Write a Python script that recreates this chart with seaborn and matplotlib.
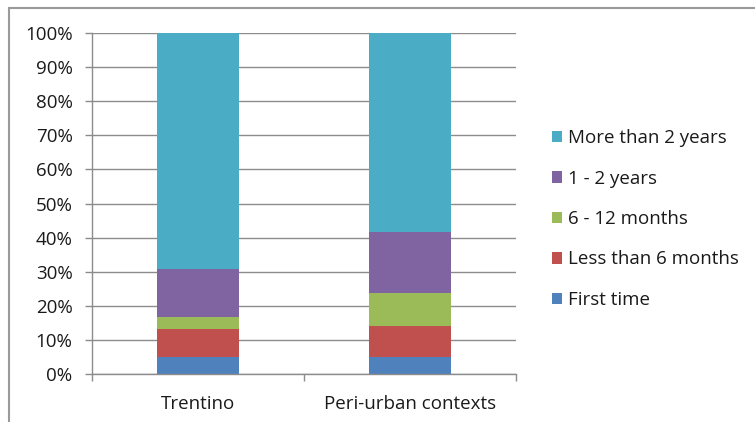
import matplotlib
matplotlib.use("Agg")
import matplotlib.pyplot as plt
import seaborn as sns
import numpy as np
import pandas as pd
from matplotlib.patches import Rectangle, Patch
from matplotlib.ticker import PercentFormatter

categories = ["Trentino", "Peri-urban contexts"]
series_names = ["First time", "Less than 6 months", "6 - 12 months", "1 - 2 years", "More than 2 years"]
first_time = [5.0, 5.0]
less_6_months = [8.2, 9.2]
months_6_12 = [3.6, 9.5]
years_1_2 = [14.0, 17.9]
more_2_years = [69.2, 58.4]
colors = ["#4F81BD", "#C0504D", "#9BBB59", "#8064A2", "#4BACC6"]
yticks = [0, 10, 20, 30, 40, 50, 60, 70, 80, 90, 100]

sns.set_theme(style="white")
plt.rcParams["font.family"] = ["Open Sans", "DejaVu Sans"]

fig = plt.figure(figsize=(7.55, 4.22), dpi=100)
ax = fig.add_axes([92 / 755, 48 / 422, (516 - 92) / 755, (374 - 33) / 422])

values = [first_time, less_6_months, months_6_12, years_1_2, more_2_years]
cum = np.cumsum(np.array(values), axis=0)
df = pd.DataFrame({"cat": categories})
# draw cumulative totals from top layer down so each layer overlays the previous
for i in range(len(series_names) - 1, -1, -1):
    df["v"] = cum[i]
    sns.barplot(data=df, x="cat", y="v", color=colors[i], width=0.39,
                saturation=1, ax=ax, linewidth=0, order=categories)

ax.set_xlim(-0.5, 1.5)
ax.set_ylim(0, 100)
ax.set_yticks(yticks)
ax.yaxis.set_major_formatter(PercentFormatter(decimals=0))
ax.yaxis.grid(True, color="#8C8C8C", linewidth=1)
ax.set_axisbelow(True)
ax.set_xlabel("")
ax.set_ylabel("")

fs = 13.5
# category labels as minor ticks, boundaries as major ticks
ax.set_xticks([-0.5, 0.5, 1.5])
ax.set_xticklabels(["", "", ""])
ax.set_xticks([0, 1], minor=True)
ax.set_xticklabels(categories, minor=True)
ax.tick_params(axis="x", which="major", direction="out", length=5, width=1,
               color="#8C8C8C", bottom=True)
ax.tick_params(axis="x", which="minor", length=0, pad=15, labelsize=fs,
               labelcolor="#1a1a1a")
ax.tick_params(axis="y", direction="out", length=5, width=1, color="#8C8C8C",
               left=True, pad=9, labelsize=fs, labelcolor="#1a1a1a")

for s in ["top", "right"]:
    ax.spines[s].set_visible(False)
for s in ["left", "bottom"]:
    ax.spines[s].set_color("#8C8C8C")
    ax.spines[s].set_linewidth(1)

handles = [Patch(facecolor=colors[i], edgecolor="none") for i in range(len(series_names) - 1, -1, -1)]
labels = [series_names[i] for i in range(len(series_names) - 1, -1, -1)]
fig.legend(handles, labels, loc="center left", bbox_to_anchor=(537 / 755, 1 - 219 / 422),
           frameon=False, fontsize=fs, handlelength=0.55, handleheight=0.55,
           handletextpad=0.32, labelspacing=1.2, labelcolor="#1a1a1a",
           borderpad=0.3)

# outer chart frame
fig.patches.append(Rectangle((8.5 / 755, -0.1), 1.2, 1 - 8.5 / 422 + 0.1,
                             transform=fig.transFigure, fill=False,
                             edgecolor="#9A9A9A", linewidth=1.5))

fig.savefig("out.png", dpi=100)
